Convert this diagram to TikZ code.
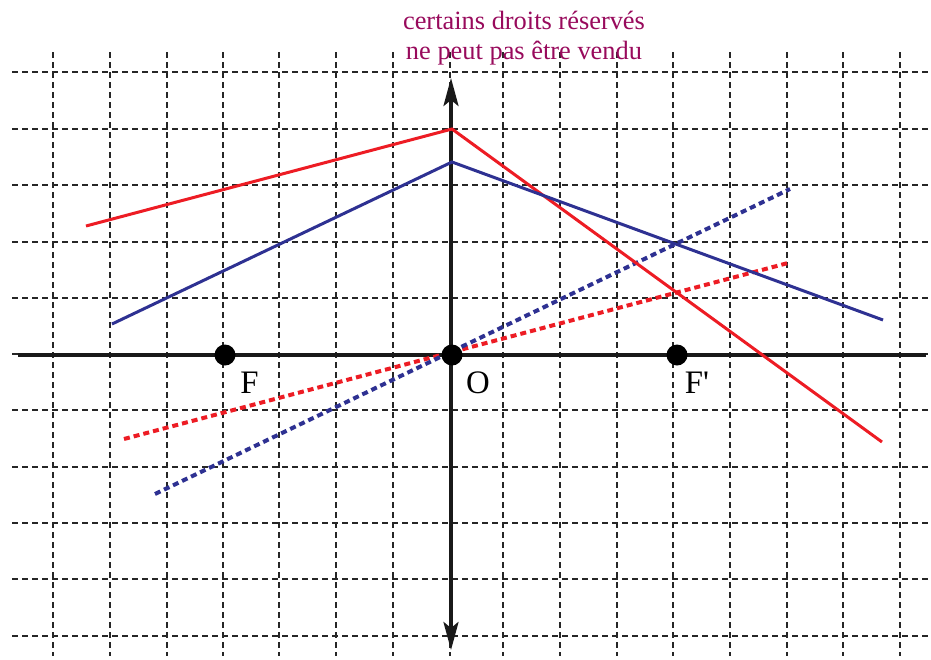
\documentclass[tikz,border=0pt]{standalone}
\usepackage{fontspec}
\setmainfont{Liberation Serif}
\usetikzlibrary{arrows.meta}
\definecolor{titlecol}{RGB}{152,10,92}
\definecolor{rayred}{RGB}{237,28,36}
\definecolor{rayblue}{RGB}{46,49,146}
\begin{document}
\begin{tikzpicture}[x=0.5pt,y=-0.5pt,
  gridline/.style={black!85,line width=0.8pt,dash pattern=on 3pt off 2pt},
  solidray/.style={line width=1.5pt},
  dotray/.style={line width=2pt,dash pattern=on 3pt off 2pt},
  axisline/.style={black!90,line width=1.6pt},
  focdot/.style={circle,fill=black,inner sep=0pt,minimum size=10.5pt},
  lbl/.style={font=\fontsize{16.4}{18}\selectfont,anchor=base,inner sep=0pt},
  title/.style={font=\fontsize{13.2}{15}\selectfont,text=titlecol,align=center,anchor=base,inner sep=0pt}]
\useasboundingbox (0,0) rectangle (931,659);
% grid
\foreach \gx in {53,110,167,223,279,336,393,450,503,560,617,673,730,787,843,900}
  \draw[gridline] (\gx,52) -- (\gx,656);
\foreach \gy in {72,129,185,242,298,354,410,467,523,579,636}
  \draw[gridline] (12,\gy) -- (931,\gy);
% axis and lens
\coordinate (axL) at (18,355);
\coordinate (axR) at (926,355);
\draw[axisline] (axL) -- (axR);
\coordinate (lensT) at (451,78);
\coordinate (lensB) at (451,650);
\draw[axisline,line width=1.8pt,{Stealth[length=14pt,width=7.5pt,inset=3pt]}-{Stealth[length=14pt,width=7.5pt,inset=3pt]}] (lensB) -- (lensT);
% rays
\coordinate (r1) at (86,226);
\coordinate (r2) at (452,129);
\coordinate (r3) at (882,442);
\coordinate (b1) at (112,324);
\coordinate (b2) at (452,162);
\coordinate (b3) at (883,320);
\coordinate (rd1) at (124,439);
\coordinate (rd2) at (788,263);
\coordinate (bd1) at (155,494);
\coordinate (bd2) at (790,189);
\draw[dotray,rayred] (rd1) -- (rd2);
\draw[dotray,rayblue] (bd1) -- (bd2);
\draw[solidray,rayred] (r1) -- (r2) -- (r3);
\draw[solidray,rayblue] (b1) -- (b2) -- (b3);
% points
\node[focdot] (F) at (225,355) {};
\node[focdot] (O) at (452,355) {};
\node[focdot] (Fp) at (677,355) {};
\node[lbl] (Flbl) at (249.5,393) {F};
\node[lbl] (Olbl) at (478,393) {O};
\node[lbl] (Fplbl) at (697,393) {F\textquotesingle};
% title
\node[title] (t1) at (524,29) {certains droits réservés};
\node[title] (t2) at (524,59) {ne peut pas être vendu};
\end{tikzpicture}
\end{document}
